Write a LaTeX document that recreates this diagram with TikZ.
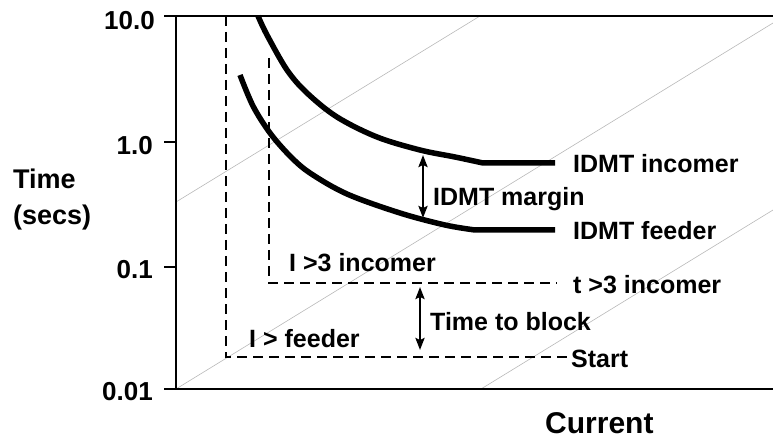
\documentclass[tikz,border=0pt]{standalone}
\usepackage{fontspec}
\setmainfont{Liberation Sans}
\usetikzlibrary{arrows.meta}
\begin{document}
\begin{tikzpicture}[x=1pt,y=-1pt,
  axisline/.style={line width=2.4pt},
  tickline/.style={line width=1.8pt},
  guide/.style={line width=0.6pt,draw=black!28},
  curve/.style={line width=5.5pt},
  setting/.style={line width=2.8pt,dash pattern=on 10pt off 6pt},
  span/.style={line width=2.4pt,{Stealth[length=12pt,width=9pt,inset=2pt]}-{Stealth[length=12pt,width=9pt,inset=2pt]}},
  lbl/.style={font=\bfseries\fontsize{25}{30}\selectfont,inner sep=0pt,anchor=base west},
  ticklbl/.style={font=\bfseries\fontsize{26}{30}\selectfont,inner sep=0pt,anchor=base east},
  axislbl/.style={font=\bfseries\fontsize{27}{32}\selectfont,inner sep=0pt,anchor=base west},
  bigaxislbl/.style={font=\bfseries\fontsize{30}{36}\selectfont,inner sep=0pt,anchor=base west}]
\useasboundingbox (0,0) rectangle (773,438);

% frame corners and tick ends
\coordinate (tl) at (176,16);
\coordinate (bl) at (176,389);
\coordinate (tr) at (773,16);
\coordinate (br) at (773,389);
\coordinate (t10) at (164,16);
\coordinate (t1a) at (164,142);
\coordinate (t1b) at (176,142);
\coordinate (t01a) at (164,267);
\coordinate (t01b) at (176,267);
\coordinate (t001) at (164,389);

% faint diagonal guide lines
\coordinate (ga1) at (176,389); \coordinate (ga2) at (773,23);
\coordinate (gb1) at (176,202); \coordinate (gb2) at (480,16);
\coordinate (gc1) at (481,389); \coordinate (gc2) at (773,210);
\draw[guide] (ga1) -- (ga2);
\draw[guide] (gb1) -- (gb2);
\draw[guide] (gc1) -- (gc2);

% axes
\draw[axisline] (t10) -- (tr);
\draw[axisline] (t001) -- (br);
\draw[axisline] (tl) -- (bl);
\draw[tickline] (t1a) -- (t1b);
\draw[tickline] (t01a) -- (t01b);

% tick labels
\node[ticklbl] (y10) at (155,30) {10.0};
\node[ticklbl] (y1) at (153,155) {1.0};
\node[ticklbl] (y01) at (153,278) {0.1};
\node[ticklbl] (y001) at (153,400) {0.01};

% axis titles
\node[axislbl] (ttime) at (13,189) {Time};
\node[axislbl] (tsecs) at (13,225) {(secs)};
\node[bigaxislbl] (tcur) at (545,433) {Current};

% IDMT characteristics
\coordinate (inc0) at (258,16);
\coordinate (incend) at (555,163);
\draw[curve] plot[smooth,tension=0.55] coordinates {(inc0) (267,35) (287,70) (307,93) (337,117) (377,137) (420,150) (455,157) (483,163)} -- (incend);
\coordinate (fd0) at (240,75);
\coordinate (fdend) at (555,230);
\draw[curve] plot[smooth,tension=0.55] coordinates {(fd0) (253,106) (270,133) (290,156) (310,173) (347,194) (400,213) (445,225) (475,230)} -- (fdend);

% instantaneous settings (dashed)
\coordinate (st0) at (226,16);
\coordinate (st1) at (226,357);
\coordinate (st2) at (570,357);
\draw[setting] (st0) -- (st1) -- (st2);
\coordinate (ic0) at (269,58);
\coordinate (ic1) at (269,283);
\coordinate (ic2) at (557,283);
\draw[setting] (ic0) -- (ic1) -- (ic2);

% margins
\coordinate (m1) at (423,155);
\coordinate (m2) at (423,218);
\draw[span] (m1) -- (m2);
\coordinate (b1) at (420,287);
\coordinate (b2) at (420,350);
\draw[span] (b1) -- (b2);

% labels
\node[lbl] (linc) at (573,173) {IDMT incomer};
\node[lbl] (lmar) at (433,206) {IDMT margin};
\node[lbl] (lfd) at (573,240) {IDMT feeder};
\node[lbl] (li3) at (289,271) {I >3 incomer};
\node[lbl] (lt3) at (573,293) {t >3 incomer};
\node[lbl] (lblk) at (430,330) {Time to block};
\node[lbl] (lif) at (249,347) {I > feeder};
\node[lbl] (lst) at (571,367) {Start};
\end{tikzpicture}
\end{document}
